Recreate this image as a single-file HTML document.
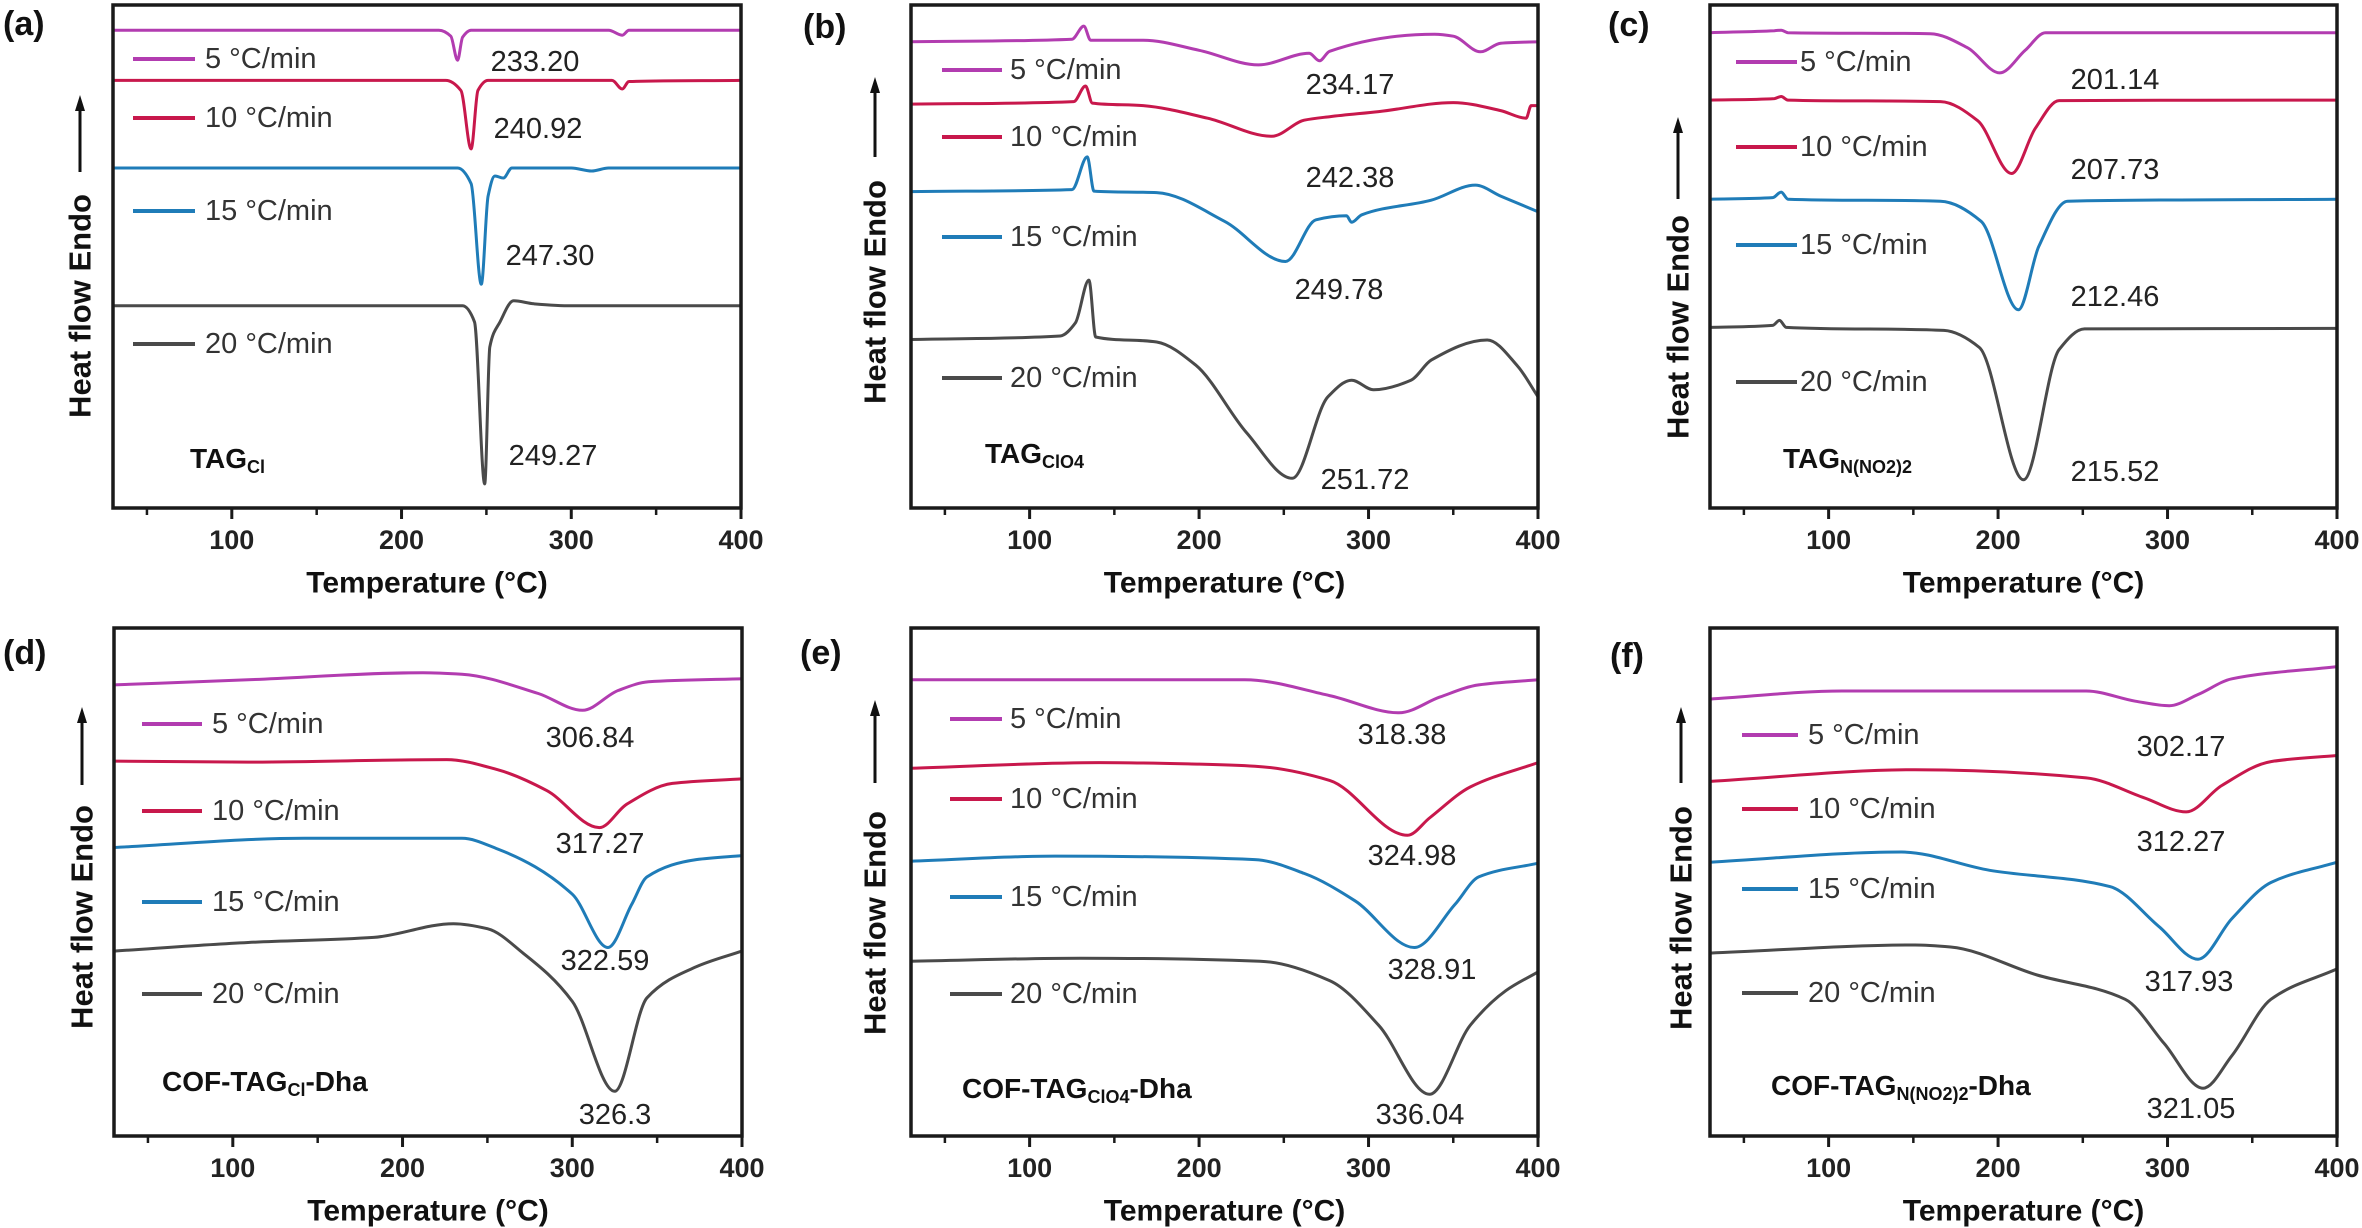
<!DOCTYPE html>
<html><head><meta charset="utf-8">
<style>
html,body{margin:0;padding:0;background:#fff;}
svg{display:block;font-family:"Liberation Sans",Arial,sans-serif;}
</style></head>
<body>
<svg id="fig" width="2362" height="1228" viewBox="0 0 2362 1228" xmlns="http://www.w3.org/2000/svg"></svg>
<script>
// ---- data: [temperature °C, relative heat flow (0-100)] ----
const a5  = [[30,95],[222,95],[229,93.8],[233,89],[236,93.6],[241,95],[322,95],[330,94],[334,95],[400,95]];
const a10 = [[30,85],[226,85],[235,83],[241,71.4],[245,83],[251,85],[324,85],[330,83.3],[334,84.8],[400,85]];
const a15 = [[30,67.6],[233,67.6],[241,64.5],[247,44.5],[251,62],[255,66],[260,65.6],[265,67.6],[300,67.6],[312,67],[322,67.6],[400,67.6]];
const a20 = [[30,40.2],[236,40.2],[243,37],[249,4.8],[252,32],[258,37],[266,41.2],[278,40.6],[300,40.2],[400,40.2]];
const b5  = [[30,92.7],[125,93.2],[132,95.8],[136,93],[167,93],[200,91],[235,88.1],[265,90.4],[271,88.9],[277,90.8],[339,94.2],[350,93.8],[366,90.7],[378,92.4],[400,92.7]];
const b10 = [[30,80.3],[126,80.8],[133,83.9],[137,80.5],[167,80],[205,77.5],[243,73.9],[262,77.1],[277,77.8],[306,78.8],[350,80.6],[378,79],[393,77.5],[396,80],[400,80]];
const b15 = [[30,62.9],[125,63.3],[134,69.8],[138,63],[175,62.7],[215,57],[251,49],[269,57.3],[287,58.1],[290,56.8],[296,58.3],[337,61.2],[363,64.2],[378,62],[400,58.9]];
const b20 = [[30,33.5],[118,34.2],[127,36.8],[135,45.3],[139,34],[175,33],[198,28.4],[228,15],[255,5.9],[276,22.1],[290,25.4],[303,23.5],[325,25.4],[337,29.4],[370,33.4],[388,28.2],[400,22.1]];
const c5  = [[30,94.5],[68,94.9],[72,95],[76,94.5],[160,94.3],[182,91.5],[201,86.5],[216,91],[228,94.5],[400,94.5]];
const c10 = [[30,81.1],[68,81.4],[72,81.8],[76,81.1],[166,80.8],[188,77],[208,66.5],[222,75.5],[236,81],[400,81.1]];
const c15 = [[30,61.4],[67,61.7],[72,62.8],[76,61.4],[166,61],[190,57],[212,39.4],[224,52],[241,61],[400,61.4]];
const c20 = [[30,35.9],[67,36.3],[71,37.3],[75,35.9],[168,35.3],[189,31.9],[215,5.6],[236,31.5],[251,35.6],[400,35.7]];
const d5  = [[30,88.8],[109,89.8],[212,91.2],[235,90.9],[280,87.1],[306,83.8],[327,87.7],[345,89.4],[400,90.0]];
const d10 = [[30,73.8],[109,73.6],[226,74.1],[256,72.1],[285,68],[316,60.7],[332,65.3],[359,69.4],[400,70.3]];
const d15 = [[30,56.8],[142,58.6],[235,58.6],[256,56.5],[300,47.6],[321,37.1],[335,45.6],[344,51],[373,54.4],[400,55.2]];
const d20 = [[30,36.4],[109,38.1],[183,39.1],[230,41.8],[250,40.8],[271,36],[300,26.5],[325,8.8],[344,27.2],[373,33.3],[400,36.4]];
const e5  = [[30,89.8],[227,89.8],[277,86.7],[318,83.3],[342,86.4],[365,88.8],[400,89.8]];
const e10 = [[30,72.4],[141,73.5],[200,73.2],[233,72.8],[277,70],[323,59.2],[336,62.6],[360,68.7],[400,73.5]];
const e15 = [[30,54.1],[115,55.1],[233,54.4],[262,51.7],[292,46.3],[327,37.1],[351,45.6],[365,51],[400,53.7]];
const e20 = [[30,34.4],[130,35],[236,34.4],[277,30.6],[306,21.8],[336,8.2],[360,21.8],[381,28.6],[400,32.3]];
const f5  = [[30,86],[108,87.6],[252,87.6],[281,85.6],[301,84.7],[318,86.9],[338,90],[400,92.4]];
const f10 = [[30,69.8],[151,72.1],[252,70.5],[286,66.6],[311,63.8],[332,69],[361,73.7],[400,74.9]];
const f15 = [[30,53.9],[143,55.9],[195,52.3],[266,49.1],[295,41.2],[318,34.8],[338,42.8],[361,49.9],[400,53.9]];
const f20 = [[30,36],[151,37.6],[172,37.2],[223,31.7],[275,26.9],[298,18.2],[321,9.4],[338,15.8],[361,26.9],[400,32.9]];
// peak labels
const aPeaks = ["233.20","240.92","247.30","249.27"];
const bPeaks = ["234.17","242.38","249.78","251.72"];
const cPeaks = ["201.14","207.73","212.46","215.52"];
const dPeaks = ["306.84","317.27","322.59","326.3"];
const ePeaks = ["318.38","324.98","328.91","336.04"];
const fPeaks = ["302.17","312.27","317.93","321.05"];
const rates = ["5 °C/min","10 °C/min","15 °C/min","20 °C/min"];
const xTicks = [100,200,300,400];
const xMinor = [50,150,250,350];
const xMin = 30, xMax = 400;

const colors = ["#b23cb0","#c8184c","#1f7cb8","#4a4a4a"];
const NS = "http://www.w3.org/2000/svg";
const svg = document.getElementById('fig');
function mk(tag, attrs, parent){ const e=document.createElementNS(NS,tag); for(const k in attrs) e.setAttribute(k,attrs[k]); (parent||svg).appendChild(e); return e; }

const panels = [
 {id:'a',L:113,R:741,T:5,B:508,series:[a5,a10,a15,a20],peaks:aPeaks,pk:[[535,62],[538,129],[550,256],[553,456]],
  leg:{x1:133,x2:195,tx:205,ys:[59,118,211,344]},lab:[3,24],ylab:{x:80,ar:[95,172],c:306},
  name:'TAG',sub:'Cl',post:'',nx:190,ny:458},
 {id:'b',L:911,R:1538,T:5,B:508,series:[b5,b10,b15,b20],peaks:bPeaks,pk:[[1350,85],[1350,178],[1339,290],[1365,480]],
  leg:{x1:942,x2:1002,tx:1010,ys:[70,137,237,378]},lab:[803,27],ylab:{x:875,ar:[77,157],c:292},
  name:'TAG',sub:'ClO4',post:'',nx:985,ny:453},
 {id:'c',L:1710,R:2337,T:5,B:508,series:[c5,c10,c15,c20],peaks:cPeaks,pk:[[2115,80],[2115,170],[2115,297],[2115,472]],
  leg:{x1:1736,x2:1797,tx:1800,ys:[62,147,245,382]},lab:[1608,25],ylab:{x:1678,ar:[117,199],c:327},
  name:'TAG',sub:'N(NO2)2',post:'',nx:1783,ny:458},
 {id:'d',L:114,R:742,T:628,B:1136,series:[d5,d10,d15,d20],peaks:dPeaks,pk:[[590,738],[600,844],[605,961],[615,1115]],
  leg:{x1:142,x2:202,tx:212,ys:[724,811,902,994]},lab:[3,653],ylab:{x:82,ar:[707,785],c:917},
  name:'COF-TAG',sub:'Cl',post:'-Dha',nx:162,ny:1081},
 {id:'e',L:911,R:1538,T:628,B:1136,series:[e5,e10,e15,e20],peaks:ePeaks,pk:[[1402,735],[1412,856],[1432,970],[1420,1115]],
  leg:{x1:950,x2:1002,tx:1010,ys:[719,799,897,994]},lab:[800,653],ylab:{x:875,ar:[700,783],c:923},
  name:'COF-TAG',sub:'ClO4',post:'-Dha',nx:962,ny:1088},
 {id:'f',L:1710,R:2337,T:628,B:1136,series:[f5,f10,f15,f20],peaks:fPeaks,pk:[[2181,747],[2181,842],[2189,982],[2191,1109]],
  leg:{x1:1742,x2:1798,tx:1808,ys:[735,809,889,993]},lab:[1610,656],ylab:{x:1681,ar:[707,783],c:918},
  name:'COF-TAG',sub:'N(NO2)2',post:'-Dha',nx:1771,ny:1085}
];

// monotone cubic (Fritsch-Carlson) - no overshoot
function smoothPath(pts){
  const n = pts.length;
  const dx=[], m=[], t=new Array(n);
  for(let i=0;i<n-1;i++){ dx[i]=pts[i+1][0]-pts[i][0]; m[i]=(pts[i+1][1]-pts[i][1])/dx[i]; }
  t[0]=m[0]; t[n-1]=m[n-2];
  for(let i=1;i<n-1;i++){
    if(m[i-1]*m[i]<=0) t[i]=0;
    else { const w1=2*dx[i]+dx[i-1], w2=dx[i]+2*dx[i-1]; t[i]=(w1+w2)/(w1/m[i-1]+w2/m[i]); }
  }
  let d='M'+pts[0][0].toFixed(1)+','+pts[0][1].toFixed(1);
  for(let i=0;i<n-1;i++){
    const h=dx[i]/3;
    d+=' C'+(pts[i][0]+h).toFixed(1)+','+(pts[i][1]+t[i]*h).toFixed(1)+' '+(pts[i+1][0]-h).toFixed(1)+','+(pts[i+1][1]-t[i+1]*h).toFixed(1)+' '+pts[i+1][0].toFixed(1)+','+pts[i+1][1].toFixed(1);
  }
  return d;
}

panels.forEach(p=>{
  const g = mk('g',{});
  
  
  const xs = t => p.L + (t-xMin)/(xMax-xMin)*(p.R-p.L);
  const ys = v => p.B - v/100*(p.B-p.T);
  p.series.forEach((s,i)=>{
    const path = mk('path',{d:smoothPath(s.map(q=>[xs(q[0]),ys(q[1])])),fill:'none',stroke:colors[i],'stroke-width':3,'stroke-linejoin':'round'},g);
    
    
  });
  const fr = mk('rect',{x:p.L,y:p.T,width:p.R-p.L,height:p.B-p.T,fill:'none',stroke:'#1a1a1a','stroke-width':3.5},g);
  
  
  xTicks.forEach(t=>{
    const tk = mk('line',{x1:xs(t),x2:xs(t),y1:p.B,y2:p.B+11,stroke:'#1a1a1a','stroke-width':3},g);
    
    
    const tl = mk('text',{x:xs(t),y:p.B+32,'text-anchor':'middle','dominant-baseline':'central','font-size':27,'font-weight':'bold',fill:'#222'},g);
    tl.textContent = t;
    
    
  });
  xMinor.forEach(t=>{
    const tk = mk('line',{x1:xs(t),x2:xs(t),y1:p.B,y2:p.B+7,stroke:'#1a1a1a','stroke-width':2.5},g);
    
    
  });
  const xt = mk('text',{x:(p.L+p.R)/2,y:p.B+75,'text-anchor':'middle','dominant-baseline':'central','font-size':30,'font-weight':'bold',fill:'#111'},g);
  xt.textContent = 'Temperature (°C)';
  
  
  const yl = mk('text',{x:p.ylab.x,y:p.ylab.c,'text-anchor':'middle','dominant-baseline':'central','font-size':31,'font-weight':'bold',fill:'#111',transform:'rotate(-90 '+p.ylab.x+' '+p.ylab.c+')'},g);
  yl.textContent = 'Heat flow Endo';
  
  
  const ar = mk('line',{x1:p.ylab.x,x2:p.ylab.x,y1:p.ylab.ar[0]+12,y2:p.ylab.ar[1],stroke:'#111','stroke-width':3},g);
  
  
  const ah = mk('polygon',{points:(p.ylab.x-5)+','+(p.ylab.ar[0]+16)+' '+(p.ylab.x+5)+','+(p.ylab.ar[0]+16)+' '+p.ylab.x+','+p.ylab.ar[0],fill:'#111'},g);
  
  
  const pl = mk('text',{x:p.lab[0],y:p.lab[1],'dominant-baseline':'central','font-size':34,'font-weight':'bold',fill:'#111'},g);
  pl.textContent = '('+p.id+')';
  
  
  rates.forEach((r,i)=>{
    const ln = mk('line',{x1:p.leg.x1,x2:p.leg.x2,y1:p.leg.ys[i],y2:p.leg.ys[i],stroke:colors[i],'stroke-width':4},g);
    
    
    const lt = mk('text',{x:p.leg.tx,y:p.leg.ys[i],'dominant-baseline':'central','font-size':29,fill:'#333'},g);
    lt.textContent = r;
    
    
  });
  p.peaks.forEach((v,i)=>{
    const pt = mk('text',{x:p.pk[i][0],y:p.pk[i][1],'text-anchor':'middle','dominant-baseline':'central','font-size':29,fill:'#222'},g);
    pt.textContent = v;
    
    
  });
  const sn = mk('text',{x:p.nx,y:p.ny,'dominant-baseline':'central','font-size':28,'font-weight':'bold',fill:'#111'},g);
  
  
  const t1 = mk('tspan',{},sn); t1.textContent = p.name;
  const t2 = mk('tspan',{'font-size':18,dy:9},sn); t2.textContent = p.sub;
  if(p.post){ const t3 = mk('tspan',{dy:-9},sn); t3.textContent = p.post; }
});
</script>
</body></html>
